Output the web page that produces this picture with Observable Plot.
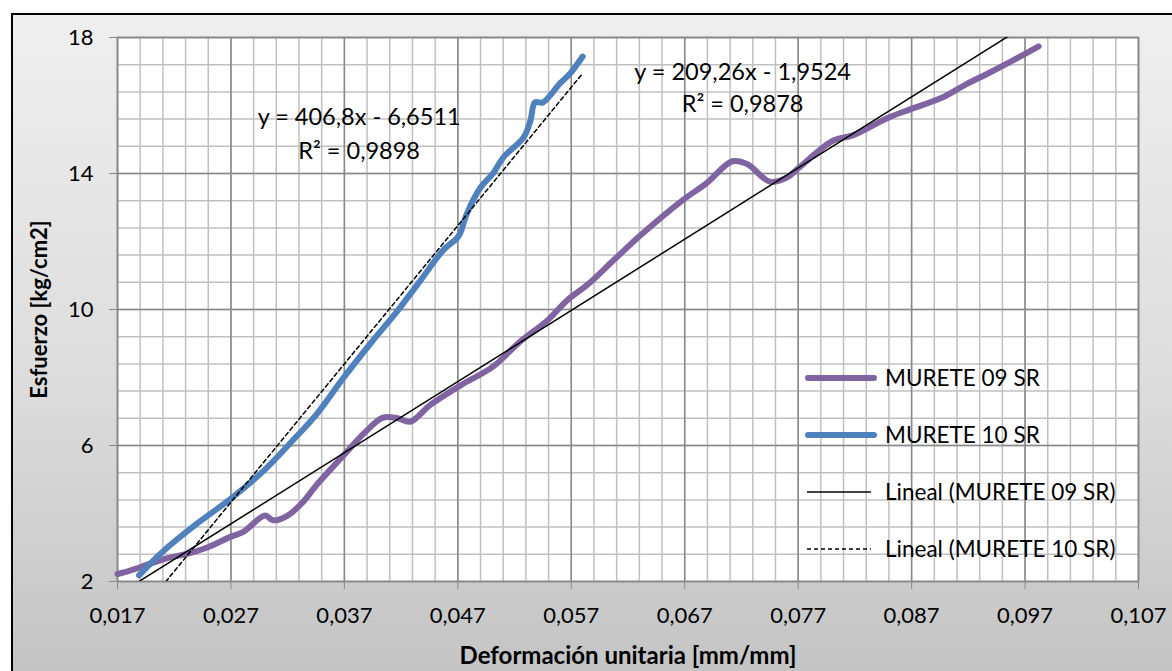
<!DOCTYPE html>
<html>
<head>
<meta charset="utf-8">
<script src="https://cdn.jsdelivr.net/npm/d3@7"></script>
<script src="https://cdn.jsdelivr.net/npm/@observablehq/plot@0.6"></script>
<style>
  html, body { margin: 0; padding: 0; background: #ffffff; }
  #wrap { position: relative; width: 1172px; height: 671px; overflow: hidden; }
  #panel {
    position: absolute; left: 11px; top: 13px; width: 1180px; height: 680px;
    border-left: 2px solid #000; border-top: 2px solid #000;
    background: linear-gradient(to bottom, #efefef 0%, #dcdcdc 55%, #c2c2c2 100%);
  }
  #chart { position: absolute; left: 0; top: 0; }
  #chart svg [aria-label="x-axis tick label"] text,
  #chart svg [aria-label="y-axis tick label"] text { font-size: 22px; }
  #legend {
    position: absolute; left: 805px; top: 349px;
    font-family: Lato, "Open Sans", sans-serif; font-size: 22.5px; color: #000;
  }
  .item { display: flex; align-items: center; height: 57px; }
  .item svg { margin-right: 8px; }
</style>
</head>
<body>
<div id="wrap">
  <div id="panel"></div>
  <div id="chart"></div>
  <div id="legend"></div>
</div>
<script>
// MURETE 09 SR: strain [mm/mm] vs stress [kg/cm2]
const m09x = [0.0170, 0.0181, 0.0190, 0.0211, 0.0232, 0.0249, 0.0270, 0.0281, 0.0300, 0.0307, 0.0320,
              0.0333, 0.0346, 0.0369, 0.0387, 0.0404, 0.0417, 0.0428, 0.0446, 0.0472, 0.0501, 0.0525,
              0.0549, 0.0566, 0.0585, 0.0607, 0.0633, 0.0668, 0.0689, 0.0712, 0.0725, 0.0745, 0.0760,
              0.0771, 0.0801, 0.0818, 0.0848, 0.0868, 0.0896, 0.0918, 0.0939, 0.0959, 0.0982];
const m09y = [2.22, 2.32, 2.42, 2.66, 2.82, 3.00, 3.32, 3.46, 3.94, 3.80, 3.94,
              4.32, 4.86, 5.70, 6.35, 6.82, 6.80, 6.70, 7.20, 7.76, 8.32, 9.06,
              9.68, 10.26, 10.75, 11.44, 12.24, 13.21, 13.71, 14.36, 14.28, 13.76, 13.88,
              14.18, 14.97, 15.12, 15.62, 15.88, 16.22, 16.62, 16.97, 17.32, 17.74];

// MURETE 10 SR
const m10x = [0.0189, 0.0211, 0.0240, 0.0270, 0.0299, 0.0322, 0.0346, 0.0369, 0.0393, 0.0417,
              0.0437, 0.0457, 0.0469, 0.0472, 0.0478, 0.0490, 0.0501, 0.0510, 0.0528, 0.0534,
              0.0538, 0.0545, 0.0560, 0.0569, 0.0580];
const m10y = [2.18, 2.91, 3.70, 4.44, 5.26, 6.06, 6.94, 7.98, 9.00, 9.97,
              10.85, 11.74, 12.09, 12.24, 12.82, 13.59, 14.00, 14.47, 15.06, 15.56,
              16.09, 16.09, 16.65, 16.94, 17.44];

// Linear trend lines (Excel "Lineal") as stated on the chart
const seriesNames = ["MURETE 09 SR", "MURETE 10 SR"];
const slopes = [209.26, 406.8];
const intercepts = [-1.9524, -6.6511];
const r2 = [0.9878, 0.9898];

// Axis ticks
const xTicks = [0.017, 0.027, 0.037, 0.047, 0.057, 0.067, 0.077, 0.087, 0.097, 0.107];
const yTicks = [2, 6, 10, 14, 18];

const colors = ["#8064a2", "#4f81bd"];
const font = "Lato, 'Open Sans', sans-serif";
const comma = (v, d) => v.toFixed(d).replace(".", ",");

const s09 = m09x.map((x, i) => ({x, y: m09y[i]}));
const s10 = m10x.map((x, i) => ({x, y: m10y[i]}));
const trend = (xs, k) => {
  const x0 = d3.min(xs), x1 = d3.max(xs);
  return [x0, x1].map(x => ({x, y: slopes[k] * x + intercepts[k]}));
};
const eqLabel = k => `y = ${String(slopes[k]).replace(".", ",")}x - ${String(-intercepts[k]).replace(".", ",")}\nR² = ${comma(r2[k], 4)}`;

const minorX = d3.range(0.017, 0.1071, 0.002);
const minorY = d3.range(2, 18.01, 0.8);

const chart = Plot.plot({
  width: 1172,
  height: 671,
  marginLeft: 117,
  marginRight: 34,
  marginTop: 37,
  marginBottom: 90,
  style: {fontFamily: font, fontSize: "22px", background: "transparent", color: "#000"},
  x: {domain: [0.017, 0.107]},
  y: {domain: [2, 18]},
  marks: [
    Plot.frame({fill: "#ffffff", stroke: null}),
    Plot.ruleX(minorX, {stroke: "#c0c0c0", strokeWidth: 1.5}),
    Plot.ruleY(minorY, {stroke: "#c0c0c0", strokeWidth: 1.5}),
    Plot.ruleX(xTicks, {stroke: "#898989", strokeWidth: 1.5}),
    Plot.ruleY(yTicks, {stroke: "#898989", strokeWidth: 1.5}),
    Plot.frame({stroke: "#898989", strokeWidth: 1.5}),
    Plot.axisX({ticks: xTicks, tickSize: 8, tickPadding: 18, stroke: "#898989", fill: "#000",
                fontSize: 22, tickFormat: d => comma(d, 3), label: null}),
    Plot.axisY({ticks: yTicks, tickSize: 8, tickPadding: 16, stroke: "#898989", fill: "#000",
                fontSize: 22, tickFormat: d => String(d), label: null}),
    Plot.line(s09, {x: "x", y: "y", stroke: colors[0], strokeWidth: 6, curve: "catmull-rom",
                    strokeLinecap: "round", strokeLinejoin: "round"}),
    Plot.line(s10, {x: "x", y: "y", stroke: colors[1], strokeWidth: 6, curve: "catmull-rom",
                    strokeLinecap: "round", strokeLinejoin: "round"}),
    Plot.line(trend(m09x, 0), {x: "x", y: "y", stroke: "#000", strokeWidth: 1.5, clip: true}),
    Plot.line(trend(m10x, 1), {x: "x", y: "y", stroke: "#000", strokeWidth: 1.5, strokeDasharray: "4,3", clip: true}),
    Plot.text([eqLabel(1)], {x: 0.0383, y: 15.24, text: d => d, lineAnchor: "middle", lineHeight: 1.45,
                             fontSize: 23.5, textAnchor: "middle"}),
    Plot.text([eqLabel(0)], {x: 0.0721, y: 16.58, text: d => d, lineAnchor: "middle", lineHeight: 1.36,
                             fontSize: 23.5, textAnchor: "middle"}),
    Plot.text(["Deformación unitaria [mm/mm]"], {frameAnchor: "bottom", dy: 75, lineAnchor: "middle",
                             textAnchor: "middle", text: d => d, fontWeight: "bold", fontSize: 24}),
    Plot.text(["Esfuerzo [kg/cm2]"], {frameAnchor: "left", dx: -78, rotate: -90, lineAnchor: "middle",
                             textAnchor: "middle", text: d => d, fontWeight: "bold", fontSize: 22})
  ]
});
document.getElementById("chart").appendChild(chart);

// Legend drawn inside the plotting area
const legendItems = [
  {label: seriesNames[0], stroke: colors[0], width: 6, dash: null},
  {label: seriesNames[1], stroke: colors[1], width: 6, dash: null},
  {label: `Lineal (${seriesNames[0]})`, stroke: "#000", width: 1.5, dash: null},
  {label: `Lineal (${seriesNames[1]})`, stroke: "#000", width: 1.5, dash: "4,3"}
];
const legend = d3.select("#legend");
for (const it of legendItems) {
  const row = legend.append("div").attr("class", "item");
  const sw = row.append("svg").attr("width", 72).attr("height", 12);
  sw.append("line").attr("x1", it.width > 2 ? 3 : 2).attr("x2", it.width > 2 ? 69 : 66)
    .attr("y1", 6).attr("y2", 6)
    .attr("stroke", it.stroke).attr("stroke-width", it.width)
    .attr("stroke-linecap", it.width > 2 ? "round" : "butt")
    .attr("stroke-dasharray", it.dash);
  row.append("span").text(it.label);
}
</script>
</body>
</html>
